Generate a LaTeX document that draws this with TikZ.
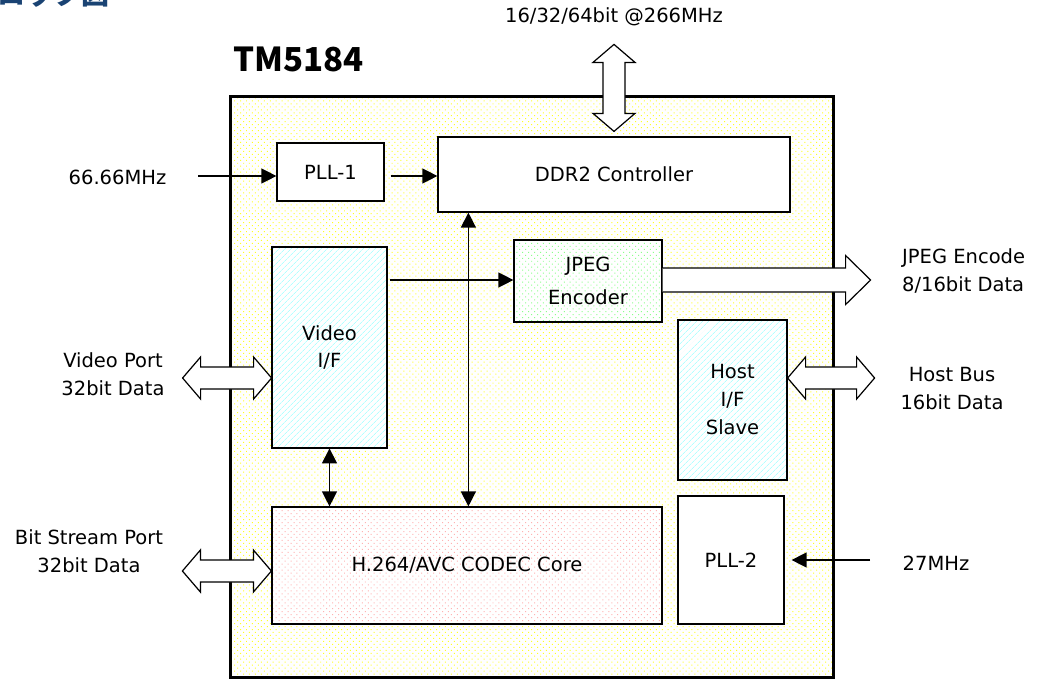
\documentclass[tikz,border=0pt]{standalone}
\usepackage{fontspec}
\setmainfont{DejaVu Sans}
\newfontfamily\cjk{Noto Sans CJK JP}
\usetikzlibrary{positioning,arrows.meta,patterns.meta,calc}
\definecolor{titleblue}{HTML}{1A4373}
\tikzset{%
  block/.style   = {draw, line width=1.2pt, align=center, inner sep=0pt,%
                    font=\fontsize{19.5}{27}\selectfont},%
  plainbox/.style = {block, fill=white},%
  hatchbox/.style = {block, preaction={fill=white},%
                     pattern={Lines[angle=45,distance=4pt,line width=0.8pt]},%
                     pattern color=cyan!30},%
  dotbox/.style  = {block, preaction={fill=white},%
                    pattern={Dots[distance=4.2pt,radius=0.7pt,angle=45]},%
                    pattern color=#1},%
  chipbox/.style = {draw, line width=3pt, inner sep=0pt, preaction={fill=white},%
                    pattern={Dots[distance=4.2pt,radius=0.7pt,angle=45]},%
                    pattern color=yellow!85},%
  extlabel/.style = {align=center, inner sep=0pt, font=\fontsize{19.5}{28}\selectfont},%
  sig/.style     = {line width=1.3pt, -{Triangle[length=15pt,width=15pt]}},%
  bisig/.style   = {line width=1.3pt, {Triangle[length=15pt,width=15pt]}-{Triangle[length=15pt,width=15pt]}},%
  hollow/.style  = {draw, line width=1.2pt, fill=white, line join=miter},%
  pics/darrow/.style = {code={%
    \filldraw[hollow] (0,0) -- (18,-21) -- (18,-11) -- (#1-18,-11) -- (#1-18,-21)
      -- (#1,0) -- (#1-18,21) -- (#1-18,11) -- (18,11) -- (18,21) -- cycle;}},%
  pics/sarrow/.style = {code={%
    \filldraw[hollow] (0,-12) -- (#1-25,-12) -- (#1-25,-24.5) -- (#1,0)
      -- (#1-25,24.5) -- (#1-25,12) -- (0,12);}}%
}

\begin{document}
\begin{tikzpicture}[x=1pt, y=-1pt]
	\useasboundingbox (0,0) rectangle (1048,680);
	% title and chip outline
	\node[anchor=base east, inner sep=0pt, text=titleblue,
	      font=\cjk\fontsize{28}{28}\selectfont\bfseries] (title) at (110,5) {ロック図};
	\node[chipbox, minimum width=603pt, minimum height=581pt] (chip) at (531.5,386.5) {};
	\node[anchor=base west, inner sep=0pt, font=\cjk\fontsize{33}{33}\selectfont\bfseries] (chipname) at (233,71) {TM5184};
	% blocks
	\node[plainbox, minimum width=352pt, minimum height=75pt] (ddr) at (614,174.5) {DDR2 Controller};
	\node[plainbox, minimum width=107pt, minimum height=58pt] (pll1) at (330.5,172) {PLL-1};
	\node[hatchbox, minimum width=115pt, minimum height=201pt] (vif) at (329.5,347.5) {Video\\I/F};
	\node[dotbox=green!45, minimum width=148pt, minimum height=82pt,
	      font=\fontsize{19.5}{33}\selectfont] (jpeg) at (588,281) {JPEG\\Encoder};
	\node[hatchbox, minimum width=109pt, minimum height=160pt, font=\fontsize{19.5}{28}\selectfont] (host) at (732.5,400) {Host\\I/F\\Slave};
	\node[plainbox, minimum width=106pt, minimum height=128pt] (pll2) at (731,560) {PLL-2};
	\node[dotbox=red!30, minimum width=390pt, minimum height=117pt] (codec) at (467,565.5) {H.264/AVC CODEC Core};
	% outside labels
	\node[extlabel] (memlbl) at (614,17) {16/32/64bit @266MHz};
	\node[extlabel] (clk1) at (117.5,177) {66.66MHz};
	\node[extlabel] (clk2) at (936,563) {27MHz};
	\node[extlabel] (vport) at (113,374) {Video Port\\32bit Data};
	\node[extlabel] (bsport) at (89,551) {Bit Stream Port\\32bit Data};
	\node[extlabel, anchor=west, align=left] (jpglbl) at (902,271) {JPEG Encode\\8/16bit Data};
	\node[extlabel] (hostlbl) at (952,389) {Host Bus\\16bit Data};
	% free ends
	\coordinate (in1) at (198,176);
	\coordinate (in2) at (870,560);
	\coordinate (bus) at ($(ddr.south west)+(31,0)$);
	% signals
	\draw[sig] (in1) -- (in1 -| pll1.west);
	\draw[sig, shorten <=6pt] (pll1.east |- in1) -- (in1 -| ddr.west);
	\draw[sig, shorten <=3pt] (vif.east |- 0,280) -- (jpeg.west |- 0,280);
	\draw[bisig] (bus) -- (bus |- codec.north);
	\draw[bisig] (vif.south) -- (vif.south |- codec.north);
	\draw[sig, shorten >=7pt] (in2) -- (in2 -| pll2.east);
	% wide buses
	\pic[rotate=-90] at ($(ddr.north)+(0,-92)$) {darrow=87};
	\pic at ($(vif.west |- 0,378)+(-89,0)$) {darrow=89};
	\pic at ($(codec.west |- 0,571)+(-89,0)$) {darrow=89};
	\pic at (host.east |- 0,378) {darrow=87};
	\pic at (jpeg.east |- 0,280) {sarrow=208};
\end{tikzpicture}
\end{document}
